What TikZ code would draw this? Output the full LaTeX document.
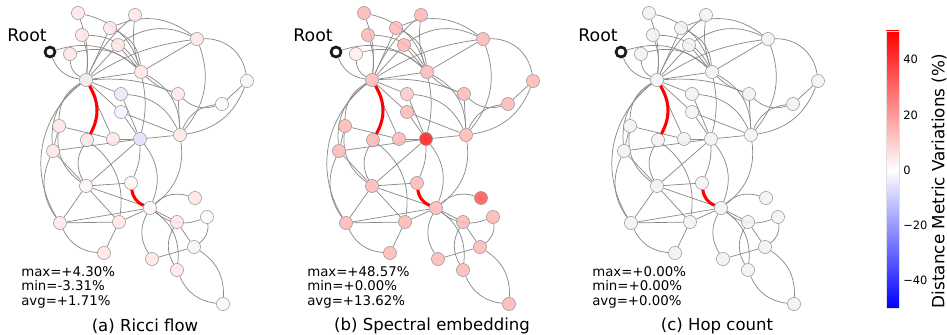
\documentclass[tikz,border=0pt]{standalone}
\usepackage{fontspec}
\setmainfont{DejaVu Sans}
\usetikzlibrary{backgrounds}
\definecolor{edgegray}{HTML}{8A8A8A}
\definecolor{nodeborder}{HTML}{999999}
\tikzset{
  gnode/.style={circle, draw=nodeborder, line width=0.45pt, minimum size=9.8pt, inner sep=0pt, fill opacity=0.85},
  edge/.style={draw=edgegray, line width=0.55pt},
  bl/.style={bend left=30}, br/.style={bend right=30}, st/.style={},
  bls/.style={bend left=12}, brs/.style={bend right=12},
  blb/.style={bend left=42}, brb/.style={bend right=42},
  rootnode/.style={circle, draw=black!90, line width=2pt, minimum size=7.5pt, inner sep=0pt, fill=white},
  redge/.style={draw=red, line width=2.3pt},
  stat/.style={font=\fontsize{10}{10.9}\selectfont, align=left, anchor=north west, inner sep=0pt},
  capt/.style={font=\fontsize{12.4}{14}\selectfont, inner sep=0pt},
  rootlbl/.style={font=\fontsize{13}{14}\selectfont, inner sep=0pt}
}
\newcommand\setall[1]{\foreach \i in {1,...,33}{\xglobal\colorlet{c\i}{#1}}}
\newcommand\placegraph{%
  \node[rootnode] (r) at (50,52) {};
  \foreach \i/\x/\y in {1/78/13,2/135/15,3/110/28,4/82/35,5/118/45,6/70/54,7/197/39,8/86/80,9/141/72,10/247/81,11/178/94,12/121/94,13/222/104,14/121/112,15/59/126,16/87/140,17/113/139,18/140/139,19/180/135,20/53/151,21/86/186,22/131/183,23/150/208,24/195/198,25/60/223,26/119/222,27/177/222,28/207/217,29/194/247,30/104/253,31/152/259,32/177/270,33/223/304}
    {\node[gnode, fill=c\i] (p\i) at (\x,\y) {};}
  \begin{scope}[on background layer]
  \foreach \a/\b/\s in {r/p8/br, r/p9/bl, p6/p8/br, p6/p9/bl, p4/p8/bls, p4/p9/bl, p1/p8/bls, p1/p9/bl,
     p3/p8/st, p3/p9/bl, p2/p8/brs, p2/p9/brs, p5/p8/st, p5/p9/st, p3/p7/bl, p5/p7/bl,
     p8/p7/bls, p9/p7/st, p7/p10/blb, p7/p19/bl,
     p8/p9/st, p8/p11/bls, p8/p12/st, p8/p14/st, p8/p15/br, p8/p17/st, p8/p20/br, p8/p25/brb,
     p9/p18/bls, p9/p19/bl, p9/p11/brs, p10/p13/st, p10/p19/bl, p11/p13/br, p11/p19/st,
     p12/p18/st, p12/p19/bl, p13/p19/br, p14/p18/st, p14/p19/st,
     p15/p17/st, p15/p20/st, p15/p21/br, p16/p21/br, p16/p26/bl, p17/p18/st,
     p18/p19/st, p18/p21/st, p18/p22/bls, p18/p23/bl, p18/p20/st, p19/p23/bl,
     p20/p21/st, p20/p25/br, p21/p22/st, p21/p23/st, p21/p25/st, p21/p26/st,
     p23/p24/bl, p23/p28/br, p23/p25/st, p23/p26/st, p23/p27/st, p23/p31/br, p23/p32/bl,
     p25/p26/st, p25/p30/br, p26/p30/st, p27/p29/st, p27/p32/br, p28/p29/bl, p29/p31/st,
     p29/p33/bl, p32/p33/br}
    {\draw[edge] (\a) to[\s] (\b);}
  \draw[redge] (p16) to[bend right=30] (p8);
  \draw[redge] (p22) to[bend right=30] (p23);
  \end{scope}
}
\begin{document}
\begin{tikzpicture}[x=0.75pt,y=-0.75pt]
\useasboundingbox (0,0) rectangle (947,335);
% ---------- panel (a)
\begin{scope}
  \setall{red!10!white}
  \colorlet{c8}{red!4!white!95!black}
  \colorlet{c10}{white!97!black}\colorlet{c13}{white!98!black}\colorlet{c28}{white!98!black}
  \colorlet{c33}{white!98!black}\colorlet{c21}{red!4!white}\colorlet{c22}{red!4!white}
  \colorlet{c23}{red!4!white}\colorlet{c29}{white!96!black}\colorlet{c14}{blue!5!white}
  \colorlet{c12}{blue!9!white}\colorlet{c18}{blue!13!white}
  \placegraph
  \node[rootlbl] (rla) at (27,35) {Root};
  \node[stat] (sa) at (21,266) {max=+4.30\%\\min=-3.31\%\\avg=+1.71\%};
  \node[capt] (ca) at (145,326) {(a) Ricci flow};
\end{scope}
% ---------- panel (b)
\begin{scope}[shift={(286,0)}]
  \setall{red!29!white}
  \colorlet{c6}{red!8!white}\colorlet{c12}{red!22!white}\colorlet{c18}{red!90!white}
  \colorlet{c24}{red!68!white}
  \placegraph
  \node[rootlbl] (rlb) at (27,35) {Root};
  \node[stat] (sb) at (21,266) {max=+48.57\%\\min=+0.00\%\\avg=+13.62\%};
  \node[capt] (cb) at (146,326) {(b) Spectral embedding};
\end{scope}
% ---------- panel (c)
\begin{scope}[shift={(571,0)}]
  \setall{white!95!black}
  \placegraph
  \node[rootlbl] (rlc) at (27,35) {Root};
  \node[stat] (sc) at (21,266) {max=+0.00\%\\min=+0.00\%\\avg=+0.00\%};
  \node[capt] (cc) at (146,326) {(c) Hop count};
\end{scope}
% ---------- colorbar
\shade[top color=red, bottom color=white] (886,31) rectangle (899,170);
\shade[top color=white, bottom color=blue] (886,170) rectangle (899,308);
\draw[white!88!black, line width=0.4pt] (886,31) rectangle (899,308);
\foreach \y/\t in {59/40,115/20,170/0,225/\textminus20,280/\textminus40}{
  \node[anchor=west, inner sep=0pt, font=\fontsize{8.6}{10}\selectfont] at (903,\y) {\t};
}
\node[rotate=90, font=\fontsize{12.6}{14}\selectfont, inner sep=0pt] (cbl) at (939,181) {Distance Metric Variations (\%)};
\end{tikzpicture}
\end{document}
